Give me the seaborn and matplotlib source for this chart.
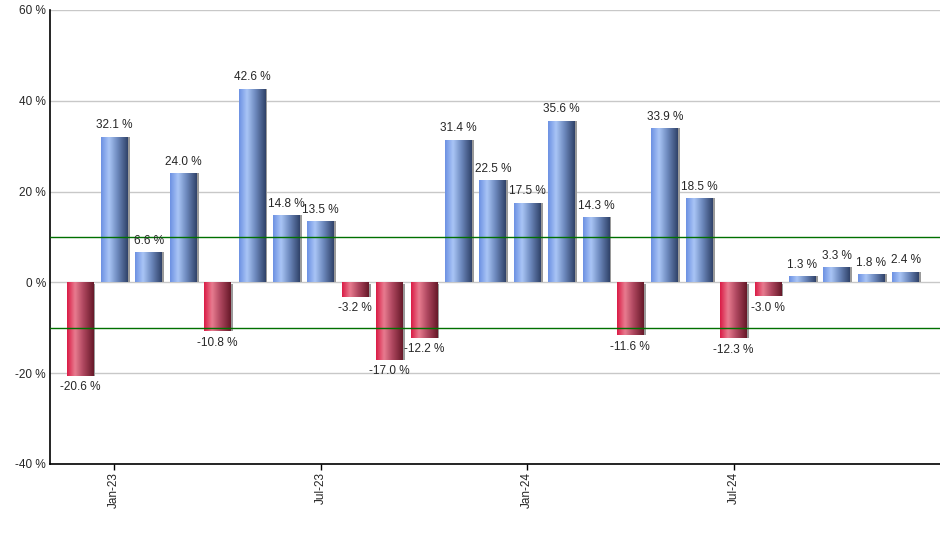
import numpy as np
import matplotlib
matplotlib.use("Agg")
import matplotlib.pyplot as plt
import seaborn as sns
from matplotlib.colors import LinearSegmentedColormap
from matplotlib.patches import Rectangle

# monthly returns, Dec-22 .. Dec-24
months = ['Dec-22', 'Jan-23', 'Feb-23', 'Mar-23', 'Apr-23', 'May-23', 'Jun-23',
          'Jul-23', 'Aug-23', 'Sep-23', 'Oct-23', 'Nov-23', 'Dec-23',
          'Jan-24', 'Feb-24', 'Mar-24', 'Apr-24', 'May-24', 'Jun-24',
          'Jul-24', 'Aug-24', 'Sep-24', 'Oct-24', 'Nov-24', 'Dec-24']
values = [-20.6, 32.1, 6.6, 24.0, -10.8, 42.6, 14.8, 13.5, -3.2, -17.0, -12.2,
          31.4, 22.5, 17.5, 35.6, 14.3, -11.6, 33.9, 18.5, -12.3, -3.0,
          1.3, 3.3, 1.8, 2.4]
shown_ticks = ['Jan-23', 'Jul-23', 'Jan-24', 'Jul-24']
band_hi, band_lo = 10, -10

sns.set_style("white")
plt.rcParams['font.family'] = ['Liberation Sans', 'DejaVu Sans']

blue_cm = LinearSegmentedColormap.from_list(
    "b", [(0, "#6b90e2"), (0.3, "#aac5f6"), (0.6, "#6f8cc0"), (1, "#2f4168")])
red_cm = LinearSegmentedColormap.from_list(
    "r", [(0, "#da1a44"), (0.3, "#e87c90"), (0.6, "#b04860"), (1, "#661828")])

fig = plt.figure(figsize=(9.4, 5.5), dpi=100)
ax = fig.add_axes([50 / 940, 86 / 550, 890 / 940, 454 / 550])

sns.barplot(x=months, y=values, color="#7f9fe0", width=0.78, ax=ax, zorder=3)

grad = np.linspace(0, 1, 256).reshape(1, -1)
for p, v in zip(ax.patches, values):
    x, y = p.get_x(), p.get_y()
    w, h = p.get_width(), p.get_height()
    # drop shadow
    sh = Rectangle((x + 0.06, y - (0.4 if v < 0 else 0)), w, h + (0.4 if v < 0 else 0),
                   facecolor="#9a9a9a", edgecolor="none", zorder=2)
    ax.add_patch(sh)
    cm = red_cm if v < 0 else blue_cm
    im = ax.imshow(grad, cmap=cm, aspect="auto", extent=[x, x + w, y, y + h],
                   zorder=3, interpolation="bicubic")
    im.set_clip_path(p)
    p.set_facecolor("none")
    p.set_edgecolor("none")
    cx = x + w / 2
    if v >= 0:
        ax.annotate(f"{v:.1f} %", (cx, v), xytext=(0, 4), textcoords="offset points",
                    ha="center", va="bottom", fontsize=8.5, zorder=5)
    else:
        ax.annotate(f"{v:.1f} %", (cx, v), xytext=(0, -4), textcoords="offset points",
                    ha="center", va="top", fontsize=8.5, zorder=5)

ax.axhline(band_hi, color="#007000", lw=1, zorder=4)
ax.axhline(band_lo, color="#007000", lw=1, zorder=4)

ax.set_ylim(-40, 60)
ax.set_xlim(-0.87, 25.0)
ax.set_yticks(range(-40, 61, 20))
ax.set_yticklabels([f"{t} %" for t in range(-40, 61, 20)], fontsize=8.5)
ax.yaxis.grid(True, color="#c8c8c8", lw=1, zorder=0)
ax.set_axisbelow(True)

pos = [months.index(m) for m in shown_ticks]
ax.set_xticks(pos)
ax.set_xticklabels(shown_ticks, rotation=90, fontsize=8.5)
ax.tick_params(axis="x", bottom=True, length=4, width=1, color="black", pad=2)
ax.tick_params(axis="y", length=0, pad=3)

for s in ["top", "right"]:
    ax.spines[s].set_visible(False)
for s in ["left", "bottom"]:
    ax.spines[s].set_color("black")
    ax.spines[s].set_linewidth(1.2)

fig.savefig("out.png", dpi=100)
